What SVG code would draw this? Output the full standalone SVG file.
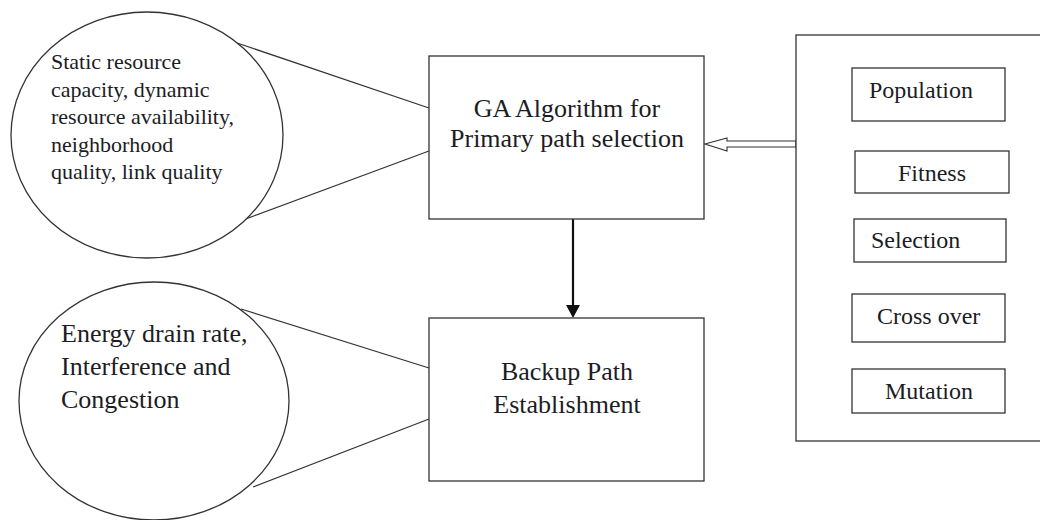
<svg xmlns="http://www.w3.org/2000/svg" width="1040" height="520" viewBox="0 0 1040 520">
  <style>
    .shape { fill: #fff; stroke: #333; stroke-width: 1.3; }
    .wire { fill: none; stroke: #333; stroke-width: 1.2; }
    text { font-family: "Liberation Serif", "Times New Roman", serif; fill: #1c1c24; }
    .big { font-size: 26px; text-anchor: middle; }
    .item { font-size: 24px; }
    .note { font-size: 22px; }
    .note2 { font-size: 26px; }
  </style>
  <rect width="1040" height="520" fill="#fff"/>

  <!-- connectors -->
  <g id="connectors">
    <line class="wire" x1="237" y1="43" x2="429" y2="108"/>
    <line class="wire" x1="243" y1="220" x2="429" y2="151"/>
    <line class="wire" x1="241" y1="309" x2="429" y2="368"/>
    <line class="wire" x1="253" y1="487" x2="429" y2="419"/>
    <line x1="573" y1="219" x2="573" y2="306" stroke="#111" stroke-width="2.2"/>
    <polygon points="566,305 580,305 573,318" fill="#111"/>
    <polygon points="705,144 727,138 727,141 796,141 796,147 727,147 727,151" fill="#fff" stroke="#333" stroke-width="1.1"/>
  </g>

  <!-- input factors for the primary path -->
  <g id="primary-factors">
    <ellipse class="shape" cx="147" cy="135" rx="136" ry="123"/>
    <text class="note" x="51" y="69">Static resource</text>
    <text class="note" x="51" y="97">capacity, dynamic</text>
    <text class="note" x="51" y="124">resource availability,</text>
    <text class="note" x="51" y="152">neighborhood</text>
    <text class="note" x="51" y="179">quality, link quality</text>
  </g>

  <!-- input factors for the backup path -->
  <g id="backup-factors">
    <ellipse class="shape" cx="154" cy="401" rx="135" ry="119"/>
    <text class="note2" x="61" y="342">Energy drain rate,</text>
    <text class="note2" x="61" y="375">Interference and</text>
    <text class="note2" x="61" y="408">Congestion</text>
  </g>

  <g id="ga-primary">
    <rect class="shape" x="429" y="56" width="275" height="163"/>
    <text class="big" x="567" y="117">GA Algorithm for</text>
    <text class="big" x="567" y="147">Primary path selection</text>
  </g>

  <g id="backup-path">
    <rect class="shape" x="429" y="318" width="275" height="163"/>
    <text class="big" x="567" y="380">Backup Path</text>
    <text class="big" x="567" y="413">Establishment</text>
  </g>

  <!-- GA operators panel -->
  <g id="ga-operators">
    <rect class="shape" x="796" y="35" width="260" height="406"/>
  </g>
  <g id="op-population">
    <rect class="shape" x="852" y="68" width="153" height="53"/>
    <text class="item" x="869" y="98">Population</text>
  </g>
  <g id="op-fitness">
    <rect class="shape" x="855" y="151" width="154" height="42"/>
    <text class="item" x="898" y="181">Fitness</text>
  </g>
  <g id="op-selection">
    <rect class="shape" x="854" y="219" width="152" height="43"/>
    <text class="item" x="871" y="248">Selection</text>
  </g>
  <g id="op-crossover">
    <rect class="shape" x="852" y="294" width="153" height="48"/>
    <text class="item" x="877" y="324">Cross over</text>
  </g>
  <g id="op-mutation">
    <rect class="shape" x="852" y="369" width="153" height="44"/>
    <text class="item" x="885" y="399">Mutation</text>
  </g>
</svg>
